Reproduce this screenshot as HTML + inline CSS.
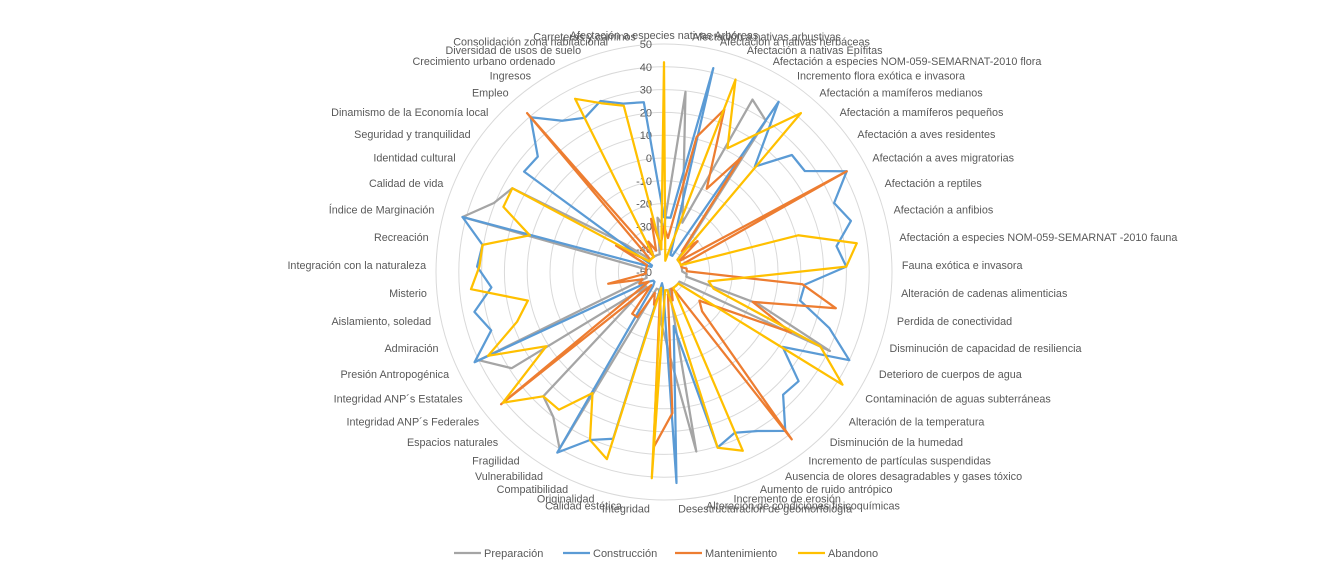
<!DOCTYPE html>
<html><head><meta charset="utf-8"><style>
body{margin:0;background:#fff;}
svg{display:block;font-family:"Liberation Sans",sans-serif;}
</style></head><body>
<svg id="chart" width="1330" height="572" viewBox="0 0 1330 572">
<rect x="0" y="0" width="1330" height="572" fill="#fff"/>
<g id="grid"></g>
<g id="ticks"></g>
<g id="series"></g>
<g id="cats"></g>
<g id="legend"></g>
</svg>
<script>
const categories = ["Afectación a especies nativas Arbóreas","Afectación a nativas arbustivas","Afectación a nativas herbáceas","Afectación a nativas Epífitas","Afectación a especies NOM-059-SEMARNAT-2010 flora","Incremento flora exótica e invasora","Afectación a  mamíferos medianos","Afectación a mamíferos pequeños","Afectación a  aves residentes","Afectación a  aves migratorias","Afectación a reptiles","Afectación a anfibios","Afectación a especies NOM-059-SEMARNAT -2010 fauna","Fauna exótica e invasora","Alteración de cadenas alimenticias","Perdida de conectividad","Disminución de capacidad de resiliencia","Deterioro de cuerpos de agua","Contaminación de aguas subterráneas","Alteración de la temperatura","Disminución de la humedad","Incremento de partículas suspendidas","Ausencia de olores desagradables  y gases tóxico","Aumento de ruido antrópico","Incremento de erosión","Alteración de condiciones fisicoquímicas","Desestructuración de geomorfología","Integridad","Calidad estética","Originalidad","Compatibilidad","Vulnerabilidad","Fragilidad","Espacios naturales","Integridad ANP´s Federales","Integridad ANP´s Estatales","Presión Antropogénica","Admiración","Aislamiento, soledad","Misterio","Integración con la naturaleza","Recreación","Índice de Marginación","Calidad de vida","Identidad cultural","Seguridad y tranquilidad","Dinamismo de la Economía local","Empleo","Ingresos","Crecimiento urbano ordenado","Diversidad de usos de suelo","Consolidación zona habitacional","Carreteras y caminos"];
const tickValues = [-50,-40,-30,-20,-10,0,10,20,30,40,50];
const seriesNames = ["Preparación","Construcción","Mantenimiento","Abandono"];
const preparacion = [-30,29.6,-14,-27,35,30,-35,-42,-42,-42,-42,-42,-42,-42,-40,-40,-6.5,30.6,-42,-42,-42,-42,-42,-42,-42,30,-15,-28,-40,-42,-42,40,30,26,-40,29,40,-42,-42,-42,-42,-42,41.6,30.5,26,-29,-42,-42,-42,-42,-42,-42,-26];
const construccion = [-26,-26,42,-42,-42,40,11,26,26,41.5,30.5,35,26.5,30,12,11,26.5,40,11.5,26,25,37.7,31,27,30.5,-26,42.7,-43,-45,26.5,30.5,42,-42,-44,-44,-42,42,30,35,26,32,30.5,41.6,-44,-44,25.5,25,39.6,30,26,30,26,25];
const mantenimiento = [-30,-35,11,26,-9,10.5,-38,-30,-42,41.5,-42,-42,-40,-40,11,27,-9,11.7,-20,-30,-26,42.3,-40,-42,-37,-40,12,27,-40,-35,-40,-27,-27,-42,42,-42,-38,-40,-25,-42,-42,-42,-42,-42,-26,-42,-42,42,-42,-35,-40,-26,-38];
const abandono = [42,-45,-40,40,11,23,42,-42,-42,-42,-42,11,35.5,30,-18,-30,-27,26,42.6,-42,-42,-42,-42,35.7,30.6,-42,-42,40.6,-43,35.8,30.5,11.7,26,26,41,11,35.5,18,11,35,31,30.5,11,26,26,-42,-42,-42,-42,35.4,29,25,-40];
const colors = ["#A5A5A5","#5B9BD5","#ED7D31","#FFC000"];

const NS="http://www.w3.org/2000/svg";
const cx=664, cy=272, R=228, vMin=-50, vMax=50;
const N=categories.length;
function ang(i){return i*2*Math.PI/N;}
function rad(v){return (v-vMin)/(vMax-vMin)*R;}
function pt(i,v){const a=ang(i),r=rad(v);return [cx+r*Math.sin(a), cy-r*Math.cos(a)];}
function mk(tag,attrs,parent){const e=document.createElementNS(NS,tag);for(const k in attrs)e.setAttribute(k,attrs[k]);parent.appendChild(e);return e;}

const grid=document.getElementById('grid');
tickValues.forEach(v=>{
  const r=rad(v);
  if(r<=0)return;
  const c=mk('circle',{cx:cx,cy:cy,r:r,fill:'none',stroke:'#d9d9d9','stroke-width':1},grid);
  
  
});
const ticks=document.getElementById('ticks');
tickValues.forEach(v=>{
  const t=mk('text',{x:cx-12,y:cy-rad(v)+4,'text-anchor':'end','font-size':11,fill:'#595959'},ticks);
  t.textContent=v;
  
  
});
const sg=document.getElementById('series');
[preparacion,construccion,mantenimiento,abandono].forEach((vals,s)=>{
  const d=vals.map((v,i)=>{const p=pt(i,v);return (i?'L':'M')+p[0].toFixed(1)+' '+p[1].toFixed(1);}).join(' ')+' Z';
  const p=mk('path',{d:d,fill:'none',stroke:colors[s],'stroke-width':2.25,'stroke-linejoin':'round'},sg);
  
  
});
const cg=document.getElementById('cats');
categories.forEach((c,i)=>{
  const a=ang(i),s=Math.sin(a),co=Math.cos(a);
  const x=cx+238*s, y=cy-237*co+4;
  const anchor=s>0.04?'start':(s<-0.04?'end':'middle');
  const t=mk('text',{x:x.toFixed(1),y:y.toFixed(1),'text-anchor':anchor,'font-size':10.8,fill:'#595959'},cg);
  t.textContent=c;
  
  
});
const lg=document.getElementById('legend');
const lx=[454,563,675,798];
seriesNames.forEach((n,s)=>{
  const l=mk('line',{x1:lx[s],y1:553,x2:lx[s]+27,y2:553,stroke:colors[s],'stroke-width':2.25},lg);
  
  
  const t=mk('text',{x:lx[s]+30,y:557,'font-size':11,fill:'#595959'},lg);
  t.textContent=n;
  
  
});
</script>
</body></html>
